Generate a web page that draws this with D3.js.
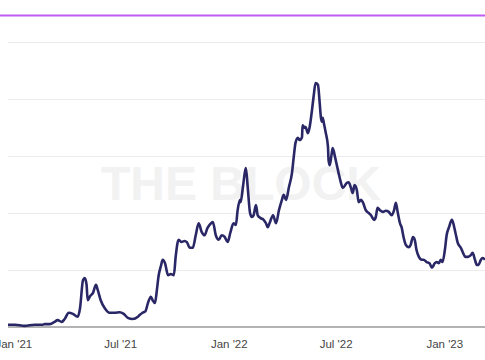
<!DOCTYPE html>
<html>
<head>
<meta charset="utf-8">
<script src="https://cdn.jsdelivr.net/npm/d3@7"></script>
<style>
  html, body { margin: 0; padding: 0; background: #fff; overflow: hidden; }
  svg { display: block; }
</style>
</head>
<body>
<svg id="chart" width="485" height="360"></svg>
<script>
// ---- data (day offsets from 2021-01-01, values in chart units) ----
const startDate = "2021-01-01";
const days = [-9,3,19,36,50,53,62,70,75,82,87,94,101,109,113,118,121,124,126,130,135,140,143,148,155,163,172,180,187,194,202,211,214,219,224,228,233,236,240,243,246,250,253,257,262,267,272,275,280,285,290,294,299,304,309,314,319,324,329,335,338,343,348,353,358,363,368,373,377,380,384,385,389,392,394,397,401,404,407,411,414,419,424,428,431,434,440,445,450,455,458,462,467,472,475,478,482,485,489,490,494,495,499,502,506,509,512,516,519,521,523,524,526,529,533,534,536,539,541,545,548,551,555,558,565,568,572,575,578,582,585,589,592,597,602,606,611,614,617,621,626,631,636,641,645,648,651,655,658,661,665,670,673,677,680,683,687,692,695,700,705,709,714,717,721,724,727,731,734,738,743,746,749,753,758,761,766,770,775,778,782,785,788,792,795,799];
const values = [0.4,0.4,0.2,0.4,0.4,0.5,0.5,0.9,1.2,0.9,1.4,2.5,2.3,1.8,3.3,8.2,8.6,7.5,4.7,5.4,6.0,7.4,6.5,4.7,3.3,2.5,2.5,2.6,2.3,1.6,1.4,1.8,2.1,2.5,2.8,4.2,5.3,4.7,4.2,6.3,8.9,10.7,11.8,11.2,9.1,9.3,9.1,12.3,15.3,14.9,15.1,14.9,13.9,13.9,16.1,18.2,16.7,16.1,17.4,18.2,18.4,16.1,15.3,16.1,15.8,14.9,16.7,18.2,17.9,20.5,22.3,21.9,24.6,27.0,27.9,24.6,20.0,19.3,19.6,21.4,19.6,19.1,18.8,18.2,17.5,18.2,19.6,18.2,20.5,22.3,23.2,22.3,24.6,27.0,29.8,32.3,33.2,32.8,33.3,35.4,34.9,35.1,34.0,35.1,38.1,40.7,42.8,42.5,39.3,36.8,36.0,36.7,35.8,34.2,31.6,29.3,28.4,30.2,31.4,29.8,28.4,27.0,25.3,24.4,25.3,25.4,24.4,23.5,24.9,24.0,21.9,22.3,21.9,20.5,20.0,19.6,18.8,19.3,20.9,20.5,20.2,20.4,20.2,19.6,20.5,21.8,20.2,18.2,17.4,15.8,14.4,14.0,14.4,15.8,15.3,13.5,12.3,11.8,11.8,11.4,11.2,10.4,11.2,11.4,11.2,11.8,11.4,13.5,16.1,17.5,18.8,17.9,16.5,14.7,13.9,13.2,12.3,12.3,12.6,13.0,11.8,10.9,10.9,11.8,12.1,11.8];
const yTicks = [0, 10, 20, 30, 40, 50];
const watermark = "THE BLOCK";

// ---- build ----
(function () {
const t0 = d3.utcParse("%Y-%m-%d")(startDate);
const data = days.map((d, i) => ({ date: d3.utcDay.offset(t0, d), value: values[i] }));

const svg = d3.select("#chart");
const W = 485;
const mLeft = 8, mRight = 485, mTop = 42, mBottom = 327;

const x = d3.scaleUtc()
  .domain(d3.extent(data, d => d.date))
  .range([mLeft, mRight]);
const y = d3.scaleLinear()
  .domain([0, 50])
  .range([mBottom, mTop]);

// top accent line
svg.append("line")
  .attr("x1", 0).attr("x2", W)
  .attr("y1", 15.5).attr("y2", 15.5)
  .attr("stroke", "#bf5af2").attr("stroke-width", 2);

// gridlines
svg.append("g")
  .selectAll("line")
  .data(yTicks.filter(t => t > 0))
  .join("line")
  .attr("x1", mLeft).attr("x2", mRight)
  .attr("y1", d => Math.round(y(d)) + 0.5).attr("y2", d => Math.round(y(d)) + 0.5)
  .attr("stroke", "#ececec").attr("stroke-width", 1);

// watermark
svg.append("text")
  .attr("x", 241).attr("y", 200)
  .attr("text-anchor", "middle")
  .attr("font-family", "Liberation Sans, Arial, sans-serif")
  .attr("font-weight", "bold")
  .attr("font-size", 48)
  .attr("fill", "#f2f2f2")
  .text(watermark);

// x axis
const xAxis = d3.axisBottom(x)
  .ticks(d3.utcMonth.every(6))
  .tickFormat(d3.utcFormat("%b '%y"))
  .tickSize(0)
  .tickPadding(0);
const gx = svg.append("g")
  .attr("transform", `translate(0,${mBottom})`)
  .call(xAxis);
gx.select(".domain").remove();
gx.selectAll("text")
  .attr("dy", null)
  .attr("y", 21)
  .attr("font-family", "Liberation Sans, Arial, sans-serif")
  .attr("font-size", 11.5)
  .attr("fill", "#444");

// baseline
svg.append("line")
  .attr("x1", mLeft).attr("x2", mRight)
  .attr("y1", mBottom).attr("y2", mBottom)
  .attr("stroke", "#9a9a9a").attr("stroke-width", 1.5);

// series line
const line = d3.line()
  .x(d => x(d.date))
  .y(d => y(d.value))
  .curve(d3.curveMonotoneX);
svg.append("path")
  .datum(data)
  .attr("fill", "none")
  .attr("stroke", "#2a2766")
  .attr("stroke-width", 2.6)
  .attr("stroke-linejoin", "round")
  .attr("d", line);
})();
</script>
</body>
</html>
